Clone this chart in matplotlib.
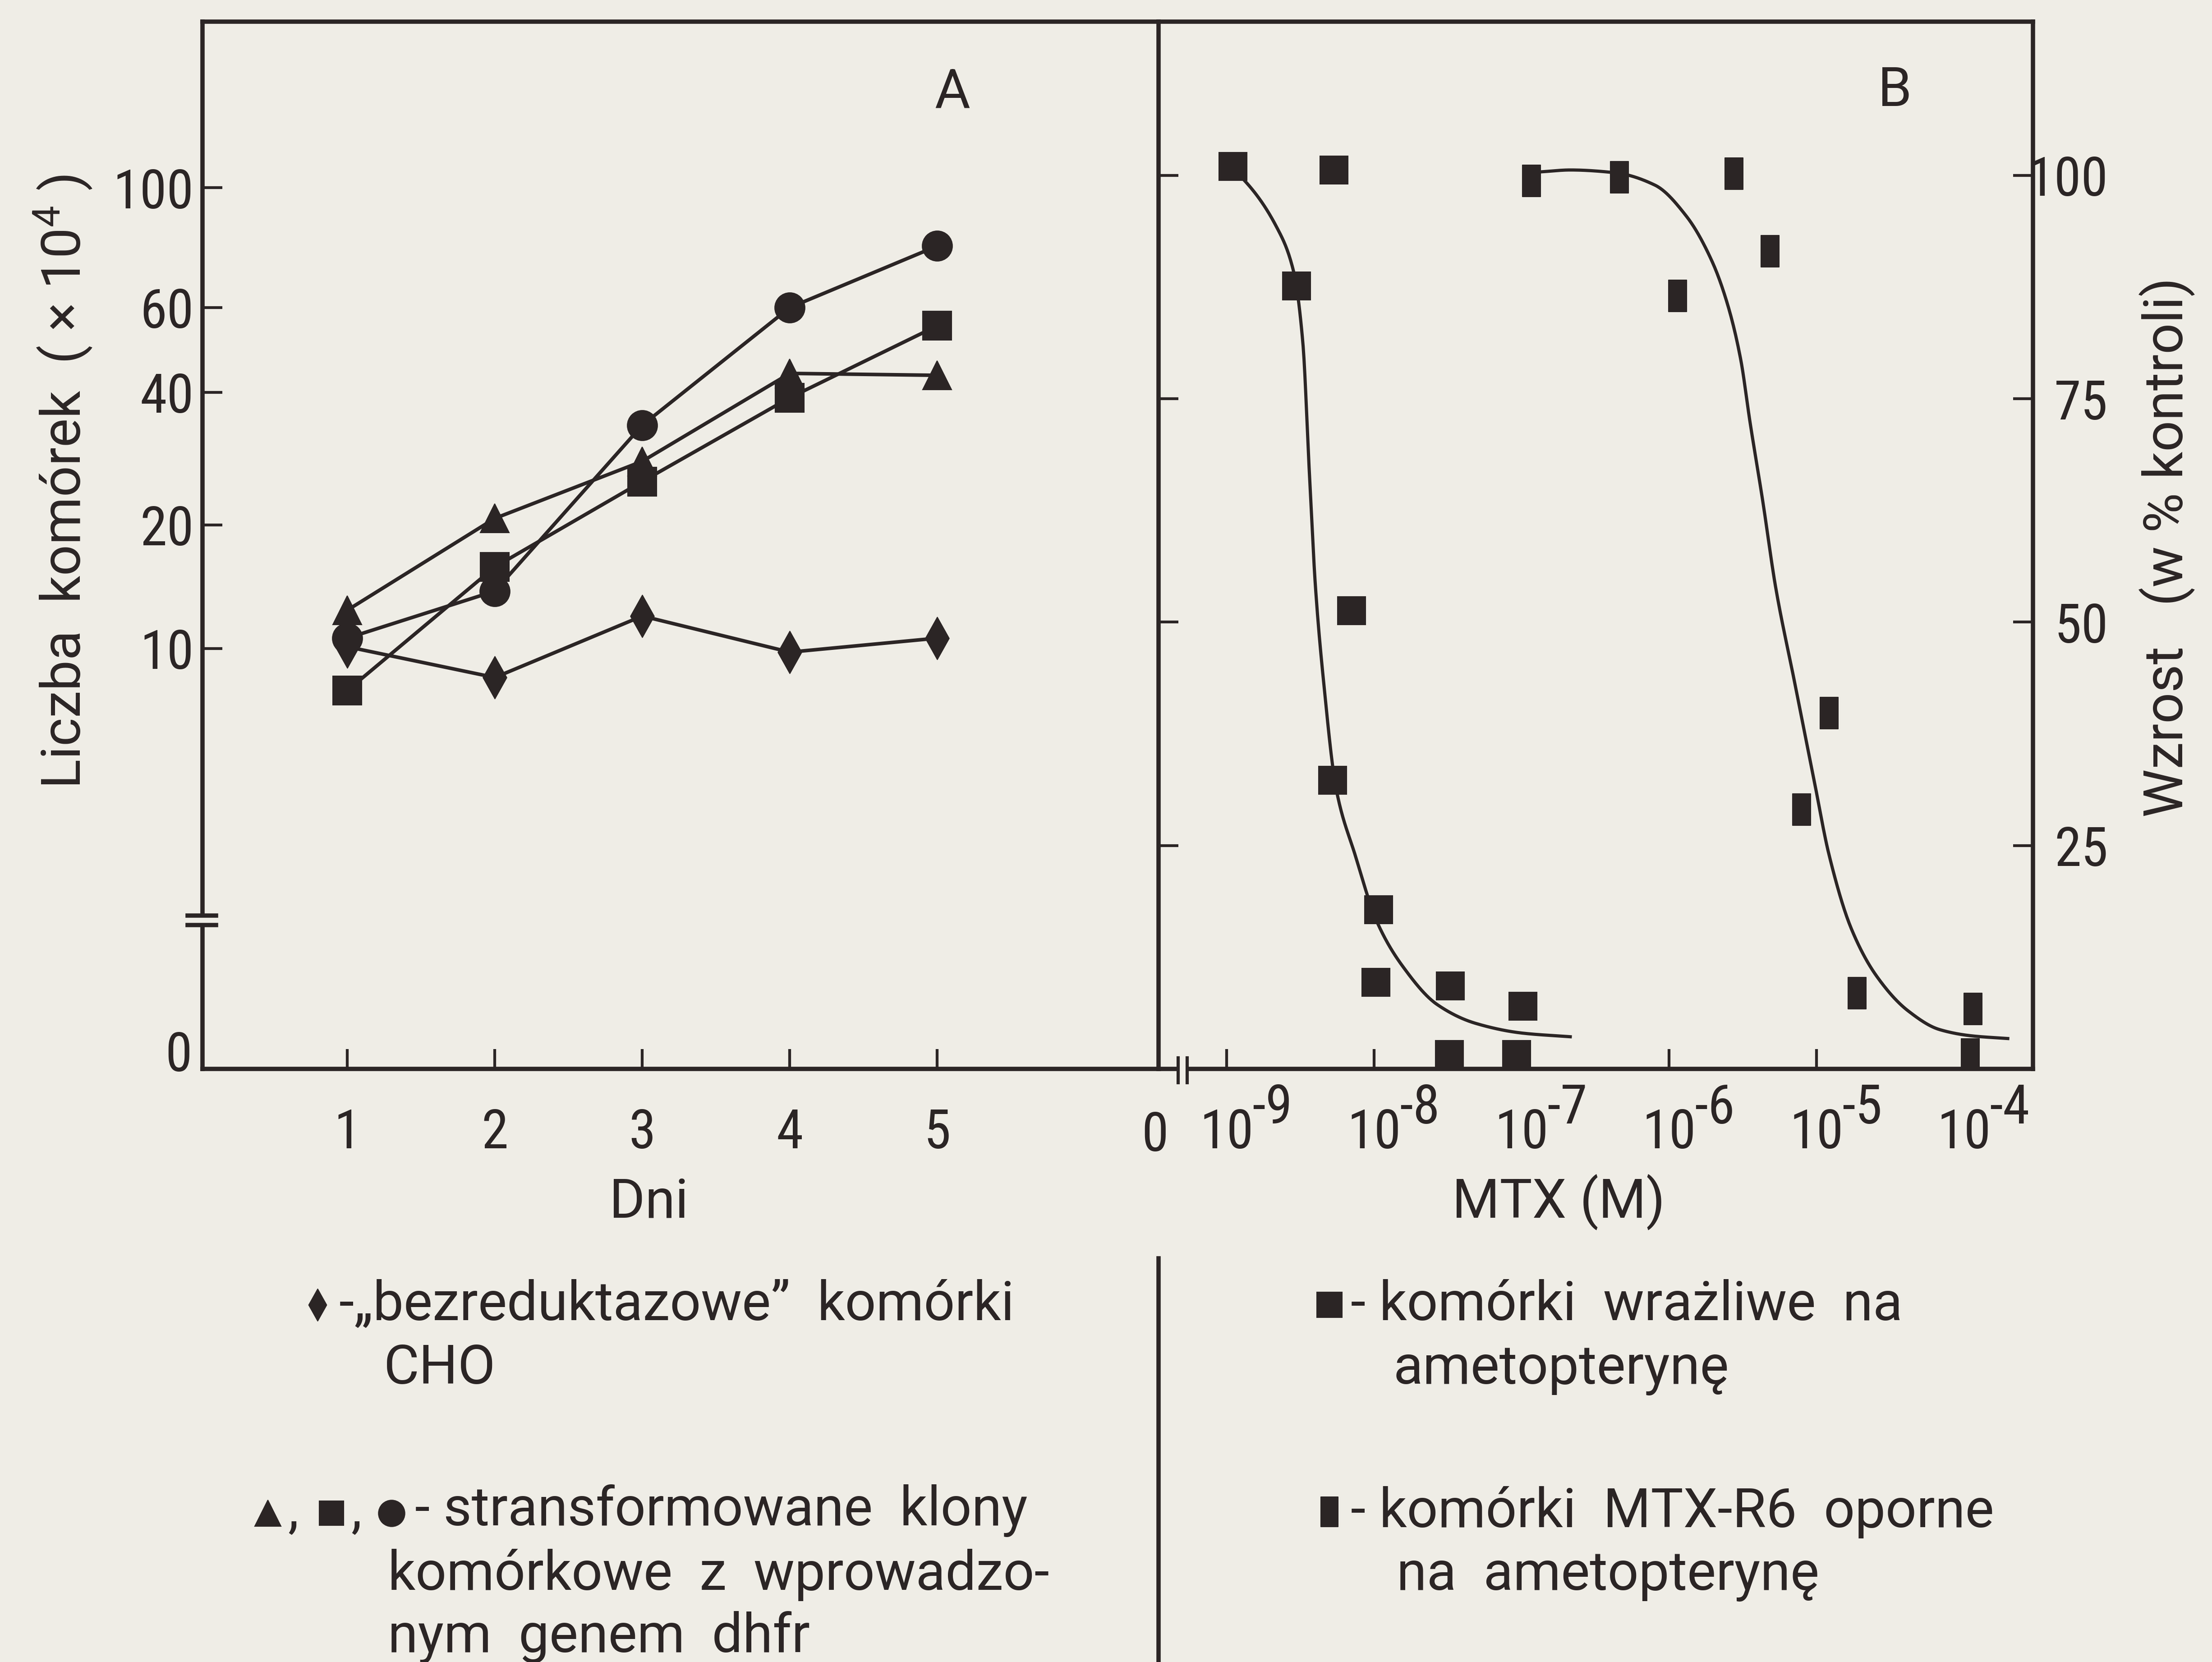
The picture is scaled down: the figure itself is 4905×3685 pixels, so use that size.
import numpy as np
import matplotlib
matplotlib.use('Agg')
import matplotlib.pyplot as plt
from matplotlib import font_manager as fm
from matplotlib.path import Path
from matplotlib.lines import Line2D
from matplotlib.patches import Rectangle
from matplotlib.ticker import NullLocator

# ---------------- data: panel A (growth, days) ----------------
days = [1, 2, 3, 4, 5]
day_labels = ['1', '2', '3', '4', '5']
cho_diamond = [10.1, 8.5, 12.0, 9.8, 10.6]
clone_triangle = [12.4, 20.7, 27.9, 43.8, 43.4]
clone_square = [7.9, 15.8, 25.1, 38.9, 55.0]
clone_circle = [10.6, 13.8, 33.7, 60.0, 78.0]
a_yticks = [10, 20, 40, 60, 100]
a_yticklabels = ['10', '20', '40', '60', '100']

# ---------------- data: panel B (MTX sensitivity) ----------------
sens_x = [1.10e-9, 2.98e-9, 5.35e-9, 5.24e-9, 7.03e-9, 1.07e-8, 1.03e-8,
          3.29e-8, 3.24e-8, 1.02e-7, 9.25e-8]
sens_y = [101.0, 87.6, 100.6, 32.3, 51.3, 17.8, 9.7, 9.3, 1.6, 7.0, 1.6]
res_x = [1.17e-7, 4.61e-7, 1.14e-6, 2.76e-6, 4.84e-6, 7.93e-6, 1.22e-5,
         1.88e-5, 1.15e-4, 1.10e-4]
res_y = [99.4, 99.8, 86.5, 100.2, 91.5, 29.0, 39.8, 8.5, 6.7, 1.6]
# hand-drawn fitted curves (log10 M, % of control)
sens_curve_logx = [-8.957, -8.878, -8.664, -8.547, -8.483, -8.440, -8.398,
                   -8.343, -8.257, -8.128, -7.979, -7.807, -7.572, -7.312,
                   -6.991, -6.670]
sens_curve_y = [100.6, 99.4, 94.3, 89.3, 81.2, 67.0, 54.0, 43.4, 31.3, 23.9,
                16.4, 11.5, 7.2, 5.1, 4.0, 3.6]
res_curve_logx = [-6.862, -6.670, -6.370, -6.095, -5.881, -5.709, -5.602,
                  -5.514, -5.450, -5.364, -5.278, -5.150, -5.021, -4.914,
                  -4.764, -4.593, -4.379, -4.165, -3.948, -3.703]
res_curve_y = [100.4, 100.6, 100.3, 98.9, 95.4, 90.4, 85.5, 79.4, 72.3, 63.5,
               54.0, 43.4, 32.7, 23.9, 15.7, 10.4, 6.5, 4.4, 3.7, 3.4]
b_xtick_exp = [-9, -8, -7, -6, -5, -4]
b_yticks = [25, 50, 75, 100]
b_yticklabels = ['25', '50', '75', '100']

# ---------------- style ----------------
BG = '#efede6'
INK = '#2b2525'
names = {f.name for f in fm.fontManager.ttflist}


def pick(cands):
    for c in cands:
        if c in names:
            return c
    return 'DejaVu Sans'


NUM_FONT = pick(['Roboto Condensed', 'Liberation Sans Narrow', 'Roboto', 'Liberation Sans'])
TXT_FONT = pick(['Roboto', 'Liberation Sans', 'Open Sans'])
plt.rcParams['font.family'] = [TXT_FONT, 'DejaVu Sans']
plt.rcParams['mathtext.fontset'] = 'custom'
plt.rcParams['mathtext.rm'] = TXT_FONT
plt.rcParams['mathtext.it'] = TXT_FONT
plt.rcParams['mathtext.default'] = 'regular'
FS = 29

W, H, DPI = 4905, 3685, 300
fig = plt.figure(figsize=(W / DPI, H / DPI), dpi=DPI, facecolor=BG)


def fx(px):
    return px / W


def fy(py):
    return 1 - py / H


A_L, MID, B_R, TOP, BOT = 449, 2569, 4508, 48, 2370
axA = fig.add_axes([fx(A_L), fy(BOT), fx(MID) - fx(A_L), fy(TOP) - fy(BOT)])
axB = fig.add_axes([fx(MID), fy(BOT), fx(B_R) - fx(MID), fy(TOP) - fy(BOT)])
SPW = 2.3
for ax in (axA, axB):
    ax.set_facecolor('none')
    for s in ax.spines.values():
        s.set_linewidth(SPW)
        s.set_color(INK)

# ---- hand-drawn (quasi-log) y scale of panel A, with a break near 0 ----
LOG_ANCH = np.log10([10, 20, 40, 60, 100])
F_ANCH = np.array([0.4014, 0.5194, 0.6460, 0.7270, 0.8415])
F_BREAK = 0.1434


def _lin_extrap(x, xp, fp):
    x = np.asarray(x, float)
    y = np.interp(x, xp, fp)
    lo = fp[0] + (x - xp[0]) * (fp[1] - fp[0]) / (xp[1] - xp[0])
    hi = fp[-1] + (x - xp[-1]) * (fp[-1] - fp[-2]) / (xp[-1] - xp[-2])
    y = np.where(x < xp[0], lo, y)
    y = np.where(x > xp[-1], hi, y)
    return y


V_BREAK = 10 ** float(_lin_extrap(F_BREAK, F_ANCH, LOG_ANCH))


def fwd(v):
    v = np.asarray(v, float)
    lv = np.log10(np.clip(v, 1e-9, None))
    return np.where(v < V_BREAK, v / V_BREAK * F_BREAK, _lin_extrap(lv, LOG_ANCH, F_ANCH))


def inv(f):
    f = np.asarray(f, float)
    vl = 10 ** np.clip(_lin_extrap(f, F_ANCH, LOG_ANCH), -30, 30)
    return np.where(f < F_BREAK, f / F_BREAK * V_BREAK, vl)


axA.set_yscale('function', functions=(fwd, inv))
axA.set_ylim(0, float(inv(1.0)))
axA.set_xlim(0.018, 6.50)

diamond = Path([(0, 1), (0.56, 0), (0, -1), (-0.56, 0), (0, 1)],
               [Path.MOVETO, Path.LINETO, Path.LINETO, Path.LINETO, Path.CLOSEPOLY])
tallrect = Path([(-0.28, -0.5), (0.28, -0.5), (0.28, 0.5), (-0.28, 0.5), (-0.28, -0.5)],
                [Path.MOVETO, Path.LINETO, Path.LINETO, Path.LINETO, Path.CLOSEPOLY])

kw = dict(color=INK, lw=1.9, mec=INK, mfc=INK, mew=0.5, clip_on=False)
axA.plot(days, clone_circle, marker='o', ms=16, **kw)
axA.plot(days, clone_square, marker='s', ms=15.5, **kw)
axA.plot(days, clone_triangle, marker='^', ms=15.5, **kw)
axA.plot(days, cho_diamond, marker=diamond, ms=22.5, **kw)

axA.set_xticks(days, day_labels)
axA.set_yticks(a_yticks, a_yticklabels)
axA.yaxis.set_minor_locator(NullLocator())
axA.xaxis.set_minor_locator(NullLocator())
axA.tick_params(axis='both', direction='in', length=10.5, width=1.5, color=INK,
                labelsize=FS, labelcolor=INK, labelfontfamily=NUM_FONT)
axA.tick_params(axis='x', pad=20.3, top=False)
axA.tick_params(axis='y', pad=4.6, right=False)
axA.spines['right'].set_visible(False)
axA.text(-0.011, 0.012, '0', transform=axA.transAxes, ha='right', va='center',
         fontsize=FS, color=INK, family=NUM_FONT)

# y-axis break marks on panel A
yb1, yb2 = (BOT - 2030) / (BOT - TOP), (BOT - 2051) / (BOT - TOP)
axA.add_patch(Rectangle((-0.006, yb2), 0.012, yb1 - yb2, transform=axA.transAxes,
                        facecolor=BG, edgecolor='none', clip_on=False, zorder=5))
for yy in (yb1, yb2):
    axA.plot([-0.0156, 0.0142], [yy, yy], transform=axA.transAxes, color=INK,
             lw=SPW, clip_on=False, zorder=6)


# ---- panel B ----
def pchip(x, y, xn):
    x = np.asarray(x, float)
    y = np.asarray(y, float)
    h = np.diff(x)
    d = np.diff(y) / h
    m = np.zeros_like(y)
    m[0], m[-1] = d[0], d[-1]
    for k in range(1, len(x) - 1):
        if d[k - 1] * d[k] > 0:
            w1 = 2 * h[k] + h[k - 1]
            w2 = h[k] + 2 * h[k - 1]
            m[k] = (w1 + w2) / (w1 / d[k - 1] + w2 / d[k])
    i = np.clip(np.searchsorted(x, xn) - 1, 0, len(h) - 1)
    t = (xn - x[i]) / h[i]
    h00 = 2 * t**3 - 3 * t**2 + 1
    h10 = t**3 - 2 * t**2 + t
    h01 = -2 * t**3 + 3 * t**2
    h11 = t**3 - t**2
    return h00 * y[i] + h10 * h[i] * m[i] + h01 * y[i + 1] + h11 * h[i] * m[i + 1]


axB.set_xscale('log')
axB.set_xlim(10 ** -9.462, 10 ** -3.532)
axB.set_ylim(0, 117.2)

for cx, cy in ((sens_curve_logx, sens_curve_y), (res_curve_logx, res_curve_y)):
    xn = np.linspace(cx[0], cx[-1], 400)
    axB.plot(10 ** xn, pchip(cx, cy, xn), color=INK, lw=1.7)

axB.plot(sens_x, sens_y, ls='none', marker='s', ms=14.8, mfc=INK, mec=INK, mew=0.5,
         clip_on=False, zorder=4)
axB.plot(res_x, res_y, ls='none', marker=tallrect, ms=16.8, mfc=INK, mec=INK, mew=0.5,
         clip_on=False, zorder=4)

axB.set_xticks([10.0 ** e for e in b_xtick_exp], ['10'] * len(b_xtick_exp))
axB.xaxis.set_minor_locator(NullLocator())
axB.set_yticks(b_yticks, b_yticklabels)
axB.yaxis.set_minor_locator(NullLocator())
axB.tick_params(axis='both', direction='in', length=10.5, width=1.5, color=INK,
                labelsize=FS, labelcolor=INK, labelfontfamily=NUM_FONT)
axB.tick_params(axis='x', pad=20.3, top=False)
axB.tick_params(axis='y', left=True, right=True, labelleft=False, labelright=True, pad=40)
for t in axB.yaxis.get_major_ticks():
    t.label2.set_horizontalalignment('right')
for e in b_xtick_exp:
    axB.annotate('-%d' % abs(e), xy=(10.0 ** e, 0), xycoords=('data', 'axes fraction'),
                 xytext=(13.5, -29), textcoords='offset points', ha='left', va='baseline',
                 fontsize=FS, color=INK, family=NUM_FONT, annotation_clip=False)

# x-axis break on panel B
xb1, xb2 = (2612 - MID) / (B_R - MID), (2632 - MID) / (B_R - MID)
axB.add_patch(Rectangle((xb1, -0.004), xb2 - xb1, 0.008, transform=axB.transAxes,
                        facecolor=BG, edgecolor='none', clip_on=False, zorder=5))
for xx in (xb1, xb2):
    axB.plot([xx, xx], [-0.0129, 0.0108], transform=axB.transAxes, color=INK,
             lw=1.7, clip_on=False, zorder=6)

# ---- texts ----
tk = dict(color=INK, fontsize=FS)
fig.text(fx(2561), fy(2461), '0', ha='center', va='top', family=NUM_FONT, **tk)
fig.text(fx(1439), fy(2700), 'Dni', ha='center', va='baseline', **tk)
fig.text(fx(3456), fy(2700), 'MTX (M)', ha='center', va='baseline', **tk)
fig.text(fx(2112), fy(240), 'A', ha='center', va='baseline', **tk)
fig.text(fx(4202), fy(235), 'B', ha='center', va='baseline', **tk)
fig.text(fx(140), fy(1068), 'Liczba  komórek  ( × 10$^{4}$ )', rotation=90,
         ha='center', va='center', **tk)
fig.text(fx(4806), fy(1213), 'Wzrost   (w % kontroli)', rotation=90,
         ha='center', va='center', **tk)

# legend block
fig.add_artist(Line2D([fx(MID), fx(MID)], [fy(2790), fy(H)], color=INK, lw=SPW))


def mark(px, py, marker, ms):
    fig.add_artist(Line2D([fx(px)], [fy(py)], marker=marker, ms=ms, ls='none',
                          mfc=INK, mec=INK, mew=0.5))


mark(704, 2893, diamond, 17)
fig.text(fx(752), fy(2927), '-„bezreduktazowe”  komórki', ha='left', va='baseline', **tk)
fig.text(fx(851), fy(3068), 'CHO', ha='left', va='baseline', **tk)

mark(594, 3355, '^', 14)
fig.text(fx(638), fy(3386), ',', ha='left', va='baseline', **tk)
mark(735, 3355, 's', 13)
fig.text(fx(778), fy(3386), ',', ha='left', va='baseline', **tk)
mark(868, 3355, 'o', 14)
fig.text(fx(920), fy(3382), '- stransformowane  klony', ha='left', va='baseline', **tk)
fig.text(fx(860), fy(3525), 'komórkowe  z  wprowadzo-', ha='left', va='baseline', **tk)
fig.text(fx(860), fy(3663), 'nym  genem  dhfr', ha='left', va='baseline', **tk)

mark(2948, 2893, 's', 13.5)
fig.text(fx(2995), fy(2927), '- komórki  wrażliwe  na', ha='left', va='baseline', **tk)
fig.text(fx(3090), fy(3068), 'ametopterynę', ha='left', va='baseline', **tk)
mark(2948, 3352, tallrect, 16)
fig.text(fx(2995), fy(3386), '- komórki  MTX-R6  oporne', ha='left', va='baseline', **tk)
fig.text(fx(3097), fy(3525), 'na  ametopterynę', ha='left', va='baseline', **tk)

fig.savefig('out.png', dpi=DPI, facecolor=BG)
